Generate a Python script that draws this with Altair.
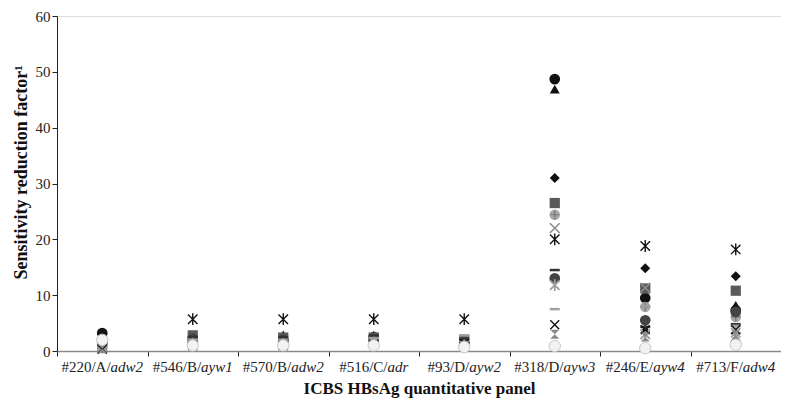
import altair as alt
import pandas as pd

# ---------------- data ----------------
cat_prefix = ["#220/A/", "#546/B/", "#570/B/", "#516/C/", "#93/D/", "#318/D/", "#246/E/", "#713/F/"]
cat_suffix = ["adw2", "ayw1", "adw2", "adr", "ayw2", "ayw3", "ayw4", "adw4"]
categories = [p + s for p, s in zip(cat_prefix, cat_suffix)]

assays = ["A1", "A2", "A3", "A4", "A5", "A6", "A7", "A8", "A9", "A10", "A11", "A12", "A13", "A14"]
v_black_circle   = [3.2, 1.5, 1.8, 2.5, 1.2, 48.7, 9.5, 7.3]
v_black_triangle = [1.5, 2.2, 2.9, 2.8, 1.8, 46.9, 4.0, 8.2]
v_black_diamond  = [1.0, 2.0, 2.2, 2.6, 1.6, 31.0, 14.8, 13.4]
v_gray_square    = [1.2, 2.8, 2.4, 2.4, 2.0, 26.5, 11.2, 10.8]
v_circle_plus    = [1.0, 1.8, 1.6, 1.8, 1.2, 24.4, 7.9, 6.1]
v_light_x        = [0.5, 1.6, 1.5, 1.5, 1.4, 22.0, 11.3, 2.5]
v_asterisk       = [0.8, 5.7, 5.7, 5.7, 5.7, 20.0, 18.8, 18.2]
v_dark_circle    = [1.5, 2.2, 2.0, 2.0, 1.5, 13.0, 5.5, 7.0]
v_dark_dash      = [2.0, 2.5, 2.5, 2.8, 2.2, 14.5, 4.3, 4.8]
v_light_asterisk = [0.8, 1.3, 1.2, 1.5, 1.0, 11.8, 3.0, 3.3]
v_light_dash     = [1.5, 2.0, 2.0, 2.3, 2.8, 7.5, 8.0, 4.5]
v_black_x        = [0.3, 1.0, 1.0, 1.2, 1.3, 4.7, 3.8, 3.8]
v_gray_bowtie    = [0.4, 1.5, 1.2, 1.4, 1.0, 3.0, 2.5, 2.9]
v_white_circle   = [2.0, 1.0, 1.0, 1.0, 0.7, 0.9, 0.5, 1.1]

series_values = [v_black_circle, v_black_triangle, v_black_diamond, v_gray_square,
                 v_circle_plus, v_light_x, v_asterisk, v_dark_circle, v_dark_dash,
                 v_light_asterisk, v_light_dash, v_black_x, v_gray_bowtie, v_white_circle]

rows = []
for name, vals in zip(assays, series_values):
    for c, v in zip(categories, vals):
        rows.append({"assay": name, "category": c, "value": v})
df = pd.DataFrame(rows)

# ---------------- styles ----------------
X_PATH = "M-1,-1L1,1M1,-1L-1,1"
AST_PATH = "M-1,-1L1,1M1,-1L-1,1M0,-1.25L0,1.25"
DASH_PATH = "M-1,-0.25L1,-0.25L1,0.25L-1,0.25Z"
PLUS_PATH = "M-1,0L1,0M0,-1L0,1"
BOW_PATH = "M-1,-1L1,-1L-1,1L1,1Z"

styles = {
    "A1": dict(shape="circle", filled=True, color="#111111", size=115),
    "A2": dict(shape="triangle-up", filled=True, color="#111111", size=100),
    "A3": dict(shape="diamond", filled=True, color="#111111", size=100),
    "A4": dict(shape="square", filled=True, color="#5a5a5a", size=105),
    "A5": dict(shape="circle", filled=True, color="#a8a8a8", size=110),
    "A6": dict(shape=X_PATH, filled=False, color="#8c8c8c", size=95, strokeWidth=1.6),
    "A7": dict(shape=AST_PATH, filled=False, color="#111111", size=90, strokeWidth=1.4),
    "A8": dict(shape="circle", filled=True, color="#444444", size=115),
    "A9": dict(shape=DASH_PATH, filled=True, color="#333333", size=100),
    "A10": dict(shape=AST_PATH, filled=False, color="#a0a0a0", size=90, strokeWidth=1.8),
    "A11": dict(shape=DASH_PATH, filled=True, color="#a0a0a0", size=100),
    "A12": dict(shape=X_PATH, filled=False, color="#111111", size=80, strokeWidth=1.4),
    "A13": dict(shape=BOW_PATH, filled=True, color="#8a8a8a", size=80),
    "A14": dict(shape="circle", filled=True, color="#f2f2f2", size=130),
}

FONT = "Liberation Serif"
W, H = 724, 335

xenc = alt.X("category:N", sort=categories,
             scale=alt.Scale(type="band", domain=categories, paddingInner=0, paddingOuter=0),
             axis=alt.Axis(labels=False, tickBand="extent", tickSize=5, tickColor="#222222",
                           domainColor="#8a8a8a", domainWidth=1.6,
                           title="ICBS HBsAg quantitative panel", titleFont=FONT,
                           titleFontSize=17, titleFontWeight="bold", titleColor="#111111",
                           titlePadding=24))
yenc = alt.Y("value:Q", scale=alt.Scale(domain=[0, 60]),
             axis=alt.Axis(values=[0, 10, 20, 30, 40, 50, 60], grid=False, tickSize=5,
                           tickColor="#222222", domainColor="#222222", labelFont=FONT,
                           labelFontSize=15, labelColor="#222222", labelPadding=2,
                           title="Sensitivity reduction factor\u00b9", titleFont=FONT,
                           titleFontSize=18, titleFontWeight="bold", titleColor="#111111",
                           titlePadding=5, titleY=156))

base = alt.Chart(df)
layers = []
for name in assays:
    st = styles[name]
    kw = dict(shape=st["shape"], filled=st["filled"], color=st["color"], size=st["size"], opacity=1)
    if "strokeWidth" in st:
        kw["strokeWidth"] = st["strokeWidth"]
    layers.append(base.transform_filter(alt.datum.assay == name).mark_point(**kw)
                  .encode(x=xenc, y=yenc))
    if name == "A5":
        layers.append(base.transform_filter(alt.datum.assay == name).mark_point(
            shape=PLUS_PATH, filled=False, color="#777777", size=80, strokeWidth=1.2, opacity=1
        ).encode(x=xenc, y=yenc))
    if name == "A14":
        layers.append(base.transform_filter(alt.datum.assay == name).mark_point(
            shape="circle", filled=False, color="#c8c8c8", size=130, strokeWidth=1, opacity=1
        ).encode(x=xenc, y=yenc))

# ---------------- category labels (regular + italic part) ----------------
REG = {"#": 0.5, "/": 0.278, "A": 0.722, "B": 0.667, "C": 0.667, "D": 0.722, "E": 0.611, "F": 0.556}
ITA = {"a": 0.5, "d": 0.5, "w": 0.667, "y": 0.444, "r": 0.389}
LFS = 15

def width(text, table):
    return sum(table.get(ch, 0.5) for ch in text) * LFS

lab_df = pd.DataFrame({"category": categories, "prefix": cat_prefix, "suffix": cat_suffix})
for c, p, s in zip(categories, cat_prefix, cat_suffix):
    shift = (width(p, REG) - width(s, ITA)) / 2
    sub = alt.Chart(lab_df).transform_filter(alt.datum.category == c)
    layers.append(sub.mark_text(align="right", baseline="alphabetic", dx=shift, font=FONT,
                                fontSize=LFS, color="#222222").encode(
        x=alt.X("category:N", sort=categories), y=alt.value(H + 21), text="prefix:N"))
    layers.append(sub.mark_text(align="left", baseline="alphabetic", dx=shift, font=FONT,
                                fontSize=LFS, fontStyle="italic", color="#222222").encode(
        x=alt.X("category:N", sort=categories), y=alt.value(H + 21), text="suffix:N"))

chart = alt.layer(*layers).properties(
    width=W, height=H,
    autosize=alt.AutoSizeParams(type="none"),
    padding={"left": 49, "top": 8, "right": 0, "bottom": 50},
).configure_view(stroke=None).configure(background="white")

chart.save("out.html", embed_options={"renderer": "svg", "actions": False})
